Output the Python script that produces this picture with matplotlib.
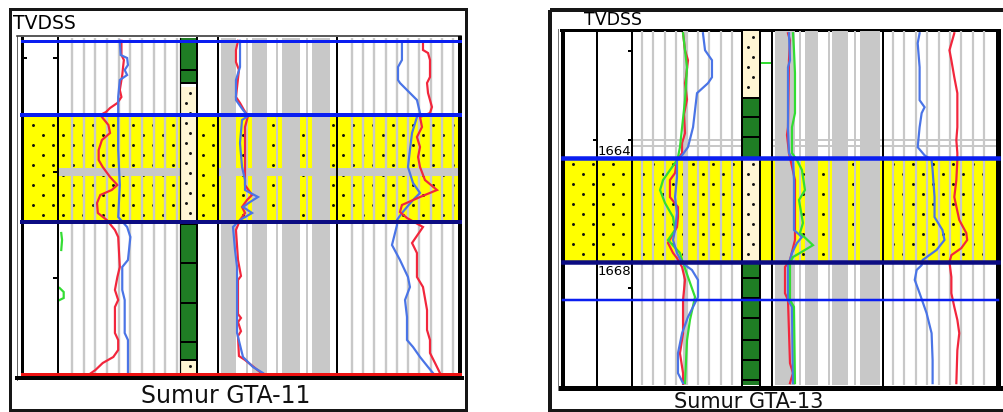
import numpy as np
import matplotlib
matplotlib.use("Agg")
import matplotlib.pyplot as plt
from matplotlib.patches import Rectangle

nan = float("nan")

# ---------------- well GTA-11 (depth in m below top of section) ----------------
gta11_sand_top = 1.875
gta11_sand_base = 4.55
gta11_tight_streak = (3.2, 3.4)
gta11_top_marker = 0.03
gta11_base_marker = 8.35
gta11_depth_ticks = [0.45, 3.3, 5.95]

gta11_litho_top = [-0.05, 1.175, 4.55, 8.0]
gta11_litho_base = [1.075, 4.55, 8.0, 8.4]
gta11_litho_kind = ["shale", "sand", "shale", "sand"]
gta11_bed_lines = [0.75, 1.075, 4.6, 5.575, 6.575, 7.55, 8.0]

# track 1 (0-150)
g11_a_red_d = [0.02, 0.375, 0.5, 0.675, 0.875, 1.25, 1.425, 1.575, 1.7, 1.8, 1.875, 2.125, 2.325,
               2.5, 2.75, 3.0, 3.175, 3.425, 3.625, 3.75, 3.875, 4.075, 4.325, 4.5, 4.75, 4.925,
               5.675, 5.925, 6.25, 6.5, 6.675, 7.325, 7.5, 7.75, 7.925, 8.075, 8.25, 8.35]
g11_a_red = [78, 78, 81, 80, 79, 76, 78, 73, 64, 59, 52, 62, 64, 54, 50, 50, 55, 64, 73, 66, 52,
             48, 49, 60, 70, 74, 76, 73, 70, 74, 70, 70, 74, 74, 68, 55, 46, 39]
g11_a_blue_d = [0.02, 0.375, 0.45, 0.625, 0.75, 0.875, 1.0, 1.425, 1.875, 2.75, 3.625, 4.425,
                4.675, 4.925, 5.5, 5.675, 6.25, 6.5, 7.325, 7.5, 8.35]
g11_a_blue = [76, 77, 85, 86, 82, 85, 76, 74, 74, 74, 76, 74, 85, 89, 86, 79, 79, 82, 82, 86, 86]
g11_a_green_d = [4.825, 5.0, 5.25, nan, 6.2, 6.3, 6.45, 6.5]
g11_a_green = [4, 5, 4, nan, 2, 7, 7, 2]

# track 2 (0-100)
g11_b_blue_d = [0.02, 0.675, 1.0, 1.5, 1.75, 1.9, 2.0, 2.575, 3.175, 3.5, 3.75, 3.925, 4.05,
                4.175, 4.325, 4.5, 4.675, 5.25, 5.675, 7.325, 7.925, 8.175, 8.325]
g11_b_blue = [18.5, 18.5, 15.1, 15.1, 21, 25.2, 20.2, 18.5, 20.2, 22.7, 22.7, 33.6, 26.9, 21,
              28.6, 18.5, 12.6, 14.3, 16, 16, 21, 29.4, 37.8]
g11_b_red_d = [0.02, 0.25, 0.55, 0.75, 1.425, 1.575, 1.75, 1.9, 2.175, 3.625, 3.875, 4.0, 4.175,
               4.325, 4.5, 4.75, 5.5, 5.9, 6.0, 6.85, 6.95, 7.05, 7.28, 7.4, 7.9, 8.0, 8.2, 8.3]
g11_b_red = [16.8, 15.1, 15.1, 17.6, 15.1, 18.5, 21.8, 25.2, 22.7, 22.7, 28.6, 24.4, 20.2, 22.7,
             18.5, 15.1, 16.8, 19.3, 16.8, 16.8, 19.3, 16.8, 19.3, 16.8, 17.6, 22.7, 31.1, 35.3]

# track 3 (0-100)
g11_c_blue_d = [0.075, 0.5, 0.675, 1.0, 1.075, 1.5, 1.825, 1.925, 2.325, 2.75, 3.175, 3.575,
                3.825, 4.0, 4.175, 4.325, 4.5, 4.625, 5.125, 5.5, 5.925, 6.175, 6.5, 6.925, 7.5,
                7.675, 7.925, 8.175, 8.325]
g11_c_blue = [52.8, 52.8, 49.6, 49.6, 51.2, 65, 67.5, 65, 61, 59.3, 57.7, 61.8, 67.5, 61.8, 56.9,
              52.8, 48.8, 48.8, 44.7, 51.2, 57.7, 59.3, 55.3, 56.9, 56.9, 61.8, 67.5, 74, 78]
g11_c_red_d = [0.075, 0.25, 0.325, 0.5, 0.925, 1.075, 1.325, 1.675, 1.825, 1.925, 2.175, 2.425,
               2.675, 2.925, 3.175, 3.5, 3.75, 3.925, 4.125, 4.3, 4.45, 4.675, 5.075, 5.325,
               5.925, 6.175, 6.75, 7.25, 7.5, 7.825, 8.075, 8.325]
g11_c_red = [69.9, 69.9, 74, 75.6, 75.6, 73.2, 74, 77.2, 75.6, 67.5, 69.1, 65, 67.5, 65.9, 67.5,
             71.5, 81.3, 67.5, 52.8, 51.2, 56.9, 69.9, 61, 65, 65, 69.9, 73.2, 73.2, 75.6, 75.6,
             79.7, 83.7]

# ---------------- well GTA-13 (TVDSS, m) ----------------
gta13_sand_top = 1664.49
gta13_sand_base = 1667.30
gta13_marker = 1668.32
gta13_grid_depths = [1664.0, 1664.16]
gta13_depth_labels = [1664, 1668]
gta13_label_depths = [1664.30, 1667.54]
gta13_depth_ticks = [1661.6, 1664.0, 1668.0]

gta13_litho_top = [1661.05, 1662.86, 1664.49, 1667.30]
gta13_litho_base = [1662.86, 1664.49, 1667.30, 1670.62]
gta13_litho_kind = ["sand", "shale", "sand", "shale"]
gta13_bed_lines = [1662.86, 1663.38, 1663.92, 1667.73, 1668.27, 1668.81, 1669.41, 1669.95, 1670.49]

g13_a_red_d = [1661.11, 1661.57, 1661.84, 1662.30, 1662.46, 1662.9, 1663.3, 1663.81, 1664.08,
               1664.35, 1664.54, 1664.89, 1665.08, 1665.54, 1665.81, 1666.08, 1666.35, 1666.78,
               1667.05, 1667.19, 1667.43, 1667.78, 1668.32, 1669.22, 1669.76, 1670.30, 1670.60]
g13_a_red = [46.4, 48.2, 50.9, 49.1, 48.2, 50, 47.3, 48.2, 45.5, 45.5, 40.9, 39.1, 34.5, 34.5,
             41.8, 41.8, 40.9, 32.7, 37.3, 40.9, 45.5, 48.2, 46.4, 46.4, 43.6, 46.4, 46.4]
g13_a_green_d = [1661.11, 1662.03, 1662.92, 1664.19, 1664.46, 1664.54, 1665.08, 1665.35, 1665.70,
                 1666.08, 1666.43, 1666.70, 1667.05, 1667.24, 1667.70, 1668.24, 1668.86, 1669.41,
                 1670.57]
g13_a_green = [46.4, 50, 48.2, 43.6, 41.8, 40.9, 28.2, 25.5, 30, 37.3, 39.1, 32.7, 43.6, 45.5,
               50.9, 57.3, 52.7, 50, 48.2]
g13_a_blue_d = [1661.11, 1661.57, 1661.84, 1662.30, 1662.46, 1662.73, 1663.19, 1663.65, 1664.19,
                1664.41, 1664.54, 1665.00, 1665.54, 1665.97, 1666.43, 1666.70, 1667.05, 1667.32,
                1667.51, 1667.78, 1668.24, 1668.51, 1668.78, 1669.22, 1669.76, 1670.30, 1670.57]
g13_a_blue = [64.5, 66.4, 72.7, 72.7, 69.1, 59.1, 57.3, 55.5, 50.9, 45.5, 40.9, 40.9, 39.1, 40.9,
              39.1, 37.3, 40.9, 45.5, 54.5, 60, 60, 55.5, 50.9, 45.5, 41.8, 41.8, 46.4]

g13_b_blue_d = [1661.11, 1661.84, 1662.03, 1663.65, 1664.35, 1664.54, 1665.08, 1666.43, 1666.62,
                1666.78, 1667.05, 1667.24, 1667.32, 1668.32, 1668.51, 1670.57]
g13_b_blue = [15.3, 16.2, 14.4, 14.4, 15.3, 18.9, 19.8, 19.8, 27, 22.5, 18, 16.2, 14.4, 14.4, 18, 18.9]
g13_b_green_d = [1661.11, 1661.57, 1662.19, 1663.27, 1663.65, 1664.35, 1664.54, 1664.81, 1665.35,
                 1665.62, 1666.24, 1666.51, 1666.84, 1667.05, 1667.16, 1667.32, 1668.32, 1668.51,
                 1670.57]
g13_b_green = [18.9, 19.8, 20.7, 20.7, 18, 18, 22.5, 27, 29.7, 24.3, 27.9, 25.2, 36.9, 25.2, 18.9,
               16.2, 16.2, 19.8, 20.7]
g13_b_red_d = [1661.11, 1661.30, 1661.84, 1663.65, 1663.86, 1664.35, 1665.08, 1666.70, 1667.24,
               1667.43, 1668.14, 1668.32, 1670.03, 1670.30, 1670.57]
g13_b_red = [14.4, 16.2, 15.3, 14.4, 13.5, 15.3, 20.7, 20.7, 16.2, 11.7, 11.7, 14.4, 16.2, 18.9, 16.2]

g13_c_blue_d = [1661.11, 1661.38, 1662.03, 1662.92, 1663.11, 1663.27, 1663.65, 1664.19, 1664.41,
                1664.54, 1664.81, 1665.54, 1666.08, 1666.43, 1666.70, 1666.97, 1667.24, 1667.38,
                1667.51, 1667.78, 1668.14, 1668.68, 1669.22, 1669.95, 1670.57]
g13_c_blue = [32.4, 30.7, 32.4, 32.4, 36.8, 34.2, 32.4, 30.7, 36.8, 43, 43.9, 45.6, 45.6, 52.6,
              54.4, 47.4, 35.1, 34.2, 29.8, 28.1, 32.4, 38.6, 43, 43.9, 43.9]
g13_c_red_d = [1661.11, 1661.57, 1661.84, 1662.30, 1662.73, 1663.65, 1664.0, 1664.35, 1664.54,
               1665.08, 1665.54, 1666.16, 1666.51, 1666.70, 1666.92, 1667.11, 1667.30, 1667.70,
               1668.14, 1668.51, 1668.86, 1669.22, 1669.68, 1670.57]
g13_c_red = [63.1, 58.8, 60.5, 63.1, 65.8, 65.8, 64.9, 65.8, 65.8, 64.9, 63.1, 67.5, 73.7, 74.5,
             69.3, 60.5, 58.8, 60.5, 60.5, 63.1, 65.8, 67.5, 65.8, 64.9]

# ---------------- styling ----------------
W, H = 1004, 412
PT = 72 / 100  # points per pixel at 100 dpi
YELLOW = "#ffff00"
CREAM = "#fff6d4"
SHALE = "#1f7d24"
GREY = "#c8c8c8"
RED = "#f2263c"
BLUE = "#4a74e6"
GREEN = "#33dd33"
MARK_BLUE = "#0a1ef0"
NAVY = "#0c0c82"
CURVE_LW = 2.2 * PT
DOT_SIZE = 4.5

fig = plt.figure(figsize=(W / 100, H / 100), dpi=100)
bg = fig.add_axes([0, 0, 1, 1], zorder=0)
bg.set_xlim(0, W)
bg.set_ylim(H, 0)
bg.set_axis_off()


def px_axes(x0, x1, y0, y1, z):
    ax = fig.add_axes([x0 / W, 1 - y1 / H, (x1 - x0) / W, (y1 - y0) / H], zorder=z)
    ax.set_axis_off()
    return ax


def track(well, x0, x1, vmax=100, z=1):
    ax = px_axes(x0, x1, well["y0"], well["y1"], z)
    ax.set_xlim(0, vmax)
    ax.set_ylim(well["base"], well["top"])
    return ax


def px_per_m(well):
    return (well["y1"] - well["y0"]) / (well["base"] - well["top"])


def dot_rows(well, d0, d1, first=8):
    ppm = px_per_m(well)
    y_top = well["y0"] + (d0 - well["top"]) * ppm
    y_bot = well["y0"] + (d1 - well["top"]) * ppm
    ys = np.arange(y_top + first, y_bot - 3, 10)
    return ys, well["top"] + (ys - well["y0"]) / ppm


def sand_fill(ax, well, x0, x1, vmax=100, dots=True):
    ax.axhspan(well["sand_top"], well["sand_base"], color=YELLOW, lw=0, zorder=1)
    if not dots:
        return
    ys, ds = dot_rows(well, well["sand_top"], well["sand_base"], well["dot_first"])
    px, pd = [], []
    for i, d in enumerate(ds):
        xs = np.arange(well["dot_phase"] + (10 if i % 2 else 0), W, 20)
        xs = xs[(xs > x0 + 3) & (xs < x1 - 3)]
        px.extend((xs - x0) / (x1 - x0) * vmax)
        pd.extend([d] * len(xs))
    ax.scatter(px, pd, s=DOT_SIZE, c="#111111", marker="o", lw=0, zorder=1.5)


def litho_column(well, x0, x1, tops, bases, kinds, beds):
    ax = track(well, x0, x1, vmax=1)
    for t, b, k in zip(tops, bases, kinds):
        ax.axhspan(t, b, color=SHALE if k == "shale" else CREAM, lw=0, zorder=1)
        if k == "sand":
            ys, ds = dot_rows(well, t, b, 6)
            xs = [0.35 if i % 2 else 0.6 for i in range(len(ds))]
            ax.scatter(xs, ds, s=DOT_SIZE, c="#111111", marker="o", lw=0, zorder=1.5)
    ax.hlines(beds, 0, 1, color="black", lw=2 * PT, zorder=2)
    return ax


def curve(ax, v, d, color):
    ax.plot(v, d, color=color, lw=CURVE_LW, solid_joinstyle="miter", zorder=3)


# ============================ GTA-11 ============================
w11 = dict(y0=38, y1=376, top=-0.05, base=8.4, sand_top=gta11_sand_top,
           sand_base=gta11_sand_base, dot_first=10, dot_phase=13)

# panel frames
bg.add_patch(Rectangle((10, 9), 456, 401, fill=False, lw=3 * PT, ec="#161616"))
bg.plot([17, 17], [36, 380], color="#666666", lw=1 * PT)
bg.plot([17, 461], [36, 36], color="#333333", lw=1.6 * PT)
bg.plot([17, 462], [378, 378], color="black", lw=4 * PT)
bg.text(13, 29, "TVDSS", fontsize=13.5, ha="left", va="baseline", color="black")
bg.text(226, 403, "Sumur GTA-11", fontsize=17, ha="center", va="baseline", color="#111111")

# depth track
t0 = track(w11, 22, 58)
sand_fill(t0, w11, 22, 58)

# first log track
t1 = track(w11, 58, 180, vmax=150)
sand_fill(t1, w11, 58, 180, vmax=150)
t1.axhspan(*gta11_tight_streak, color=GREY, lw=0, zorder=1.7)
t1.vlines(np.linspace(17.2, 146.3, 10), w11["base"], w11["top"], color=GREY, lw=2.4 * PT, zorder=2)
curve(t1, g11_a_green, g11_a_green_d, GREEN)
curve(t1, g11_a_red, g11_a_red_d, RED)
curve(t1, g11_a_blue, g11_a_blue_d, BLUE)

# lithology column and spacer
litho_column(w11, 180, 197, gta11_litho_top, gta11_litho_base, gta11_litho_kind, gta11_bed_lines)
gap11 = track(w11, 197, 218)
sand_fill(gap11, w11, 197, 218)

# second log track (shaded scale)
t2 = track(w11, 218, 337)
sand_fill(t2, w11, 218, 337)
t2.axhspan(*gta11_tight_streak, color=GREY, lw=0, zorder=1.7)
for a, b in [(2.5, 15.1), (28.6, 41.2), (53.8, 68.9), (79.0, 94.1)]:
    t2.axvspan(a, b, color=GREY, lw=0, zorder=2)
t2.vlines([24.4, 49.6, 74.8], w11["base"], w11["top"], color=GREY, lw=2 * PT, zorder=2)
curve(t2, g11_b_red, g11_b_red_d, RED)
curve(t2, g11_b_blue, g11_b_blue_d, BLUE)

# third log track
t3 = track(w11, 337, 460)
sand_fill(t3, w11, 337, 460)
t3.axhspan(*gta11_tight_streak, color=GREY, lw=0, zorder=1.7)
t3.vlines(np.linspace(12.2, 94.3, 10), w11["base"], w11["top"], color=GREY, lw=2.4 * PT, zorder=2)
curve(t3, g11_c_blue, g11_c_blue_d, BLUE)
curve(t3, g11_c_red, g11_c_red_d, RED)

# overlay: track borders, ticks and correlation markers
ov11 = px_axes(22, 460, w11["y0"], w11["y1"], 5)
ov11.set_xlim(22, 460)
ov11.set_ylim(w11["base"], w11["top"])
for x, lw in [(22, 3), (58, 2), (180, 1.2), (197, 2), (218, 2), (337, 2), (460, 4)]:
    ov11.axvline(x, color="black", lw=lw * PT, clip_on=False, zorder=1)
ov11.hlines(gta11_depth_ticks, 53, 58, color="black", lw=2 * PT, zorder=1)
ov11.hlines(gta11_depth_ticks[:1], 22, 27, color="black", lw=2 * PT, zorder=1)
ov11.axhline(gta11_top_marker, color=MARK_BLUE, lw=3 * PT, clip_on=False, zorder=2)
ov11.axhline(gta11_sand_top, color=MARK_BLUE, lw=4 * PT, clip_on=False, zorder=2)
ov11.axhline(gta11_sand_base, color=NAVY, lw=4 * PT, clip_on=False, zorder=2)
ov11.axhline(gta11_base_marker, color="#ee1111", lw=3 * PT, clip_on=False, zorder=2)

# ============================ GTA-13 ============================
w13 = dict(y0=31, y1=385, top=1661.05, base=1670.62, sand_top=gta13_sand_top,
           sand_base=gta13_sand_base, dot_first=6, dot_phase=573)

bg.add_patch(Rectangle((550, 10), 462, 401, fill=False, lw=4 * PT, ec="#161616"))
bg.plot([558, 558], [29, 390], color="#777777", lw=1 * PT)
bg.plot([561, 999], [29.5, 29.5], color="black", lw=3 * PT)
bg.plot([561, 1001], [387.5, 387.5], color="black", lw=5 * PT)
bg.text(584, 25, "TVDSS", fontsize=12.5, ha="left", va="baseline", color="black")
bg.text(749, 408, "Sumur GTA-13", fontsize=15, ha="center", va="baseline", color="#111111")

ta = track(w13, 563, 597)
sand_fill(ta, w13, 563, 597)
tb = track(w13, 597, 632)
sand_fill(tb, w13, 597, 632)

tc = track(w13, 632, 742)
sand_fill(tc, w13, 632, 742)
tc.vlines(np.linspace(9.1, 90.9, 9), w13["base"], w13["top"], color=GREY, lw=2.2 * PT, zorder=2)
tc.axvspan(46.4, 50.0, color=GREY, lw=0, zorder=2)
tc.hlines(gta13_grid_depths, 0, 100, color=GREY, lw=2 * PT, zorder=2)
curve(tc, g13_a_red, g13_a_red_d, RED)
curve(tc, g13_a_green, g13_a_green_d, GREEN)
curve(tc, g13_a_blue, g13_a_blue_d, BLUE)

litho_column(w13, 742, 760, gta13_litho_top, gta13_litho_base, gta13_litho_kind, gta13_bed_lines)
gap13 = track(w13, 760, 772)
sand_fill(gap13, w13, 760, 772)
gap13.hlines([1661.92], 10, 100, color=GREEN, lw=2 * PT, zorder=3)

td = track(w13, 772, 883)
sand_fill(td, w13, 772, 883)
for a, b in [(2.7, 20.7), (29.7, 41.4), (54.1, 68.5), (79.3, 97.3)]:
    td.axvspan(a, b, color=GREY, lw=0, zorder=2)
td.vlines([25.2, 51.4, 74.8], w13["base"], w13["top"], color=GREY, lw=2 * PT, zorder=2)
td.hlines(gta13_grid_depths, 0, 100, color=GREY, lw=2 * PT, zorder=2)
curve(td, g13_b_red, g13_b_red_d, RED)
curve(td, g13_b_blue, g13_b_blue_d, BLUE)
curve(td, g13_b_green, g13_b_green_d, GREEN)

te = track(w13, 883, 996)
sand_fill(te, w13, 883, 996)
te.vlines(np.linspace(8.8, 89.5, 9), w13["base"], w13["top"], color=GREY, lw=2.2 * PT, zorder=2)
te.hlines(gta13_grid_depths, 0, 100, color=GREY, lw=2 * PT, zorder=2)
curve(te, g13_c_blue, g13_c_blue_d, BLUE)
curve(te, g13_c_red, g13_c_red_d, RED)

ov13 = px_axes(563, 998, w13["y0"], w13["y1"], 5)
ov13.set_xlim(563, 998)
ov13.set_ylim(w13["base"], w13["top"])
for x, lw in [(563, 4), (597, 2), (632, 2), (742, 2), (760, 2), (772, 2), (883, 2), (998, 5)]:
    ov13.axvline(x, color="black", lw=lw * PT, clip_on=False, zorder=1)
ov13.hlines(gta13_depth_ticks, 628, 632, color="black", lw=2 * PT, zorder=1)
ov13.hlines([1664.0], 593, 597, color="black", lw=2 * PT, zorder=1)
for lab, d in zip(gta13_depth_labels, gta13_label_depths):
    ov13.text(598, d, str(lab), fontsize=9.5, ha="left", va="center", color="black", zorder=3)
ov13.axhline(gta13_sand_top, color=MARK_BLUE, lw=4.5 * PT, clip_on=False, zorder=2)
ov13.axhline(gta13_sand_base, color=NAVY, lw=4.5 * PT, clip_on=False, zorder=2)
ov13.axhline(gta13_marker, color=MARK_BLUE, lw=2.5 * PT, clip_on=False, zorder=2)

fig.savefig("out.png", dpi=100, facecolor="white")
